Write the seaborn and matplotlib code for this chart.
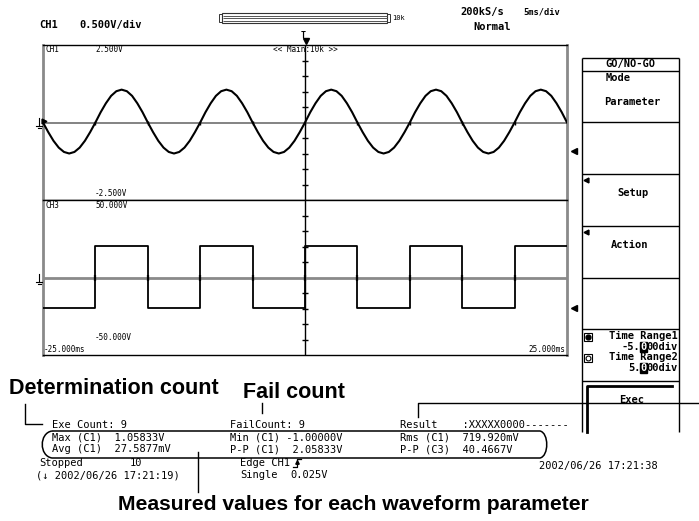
import matplotlib
matplotlib.use('Agg')
import matplotlib.pyplot as plt
import matplotlib.patches as mpatches
from matplotlib.path import Path
import numpy as np
import pandas as pd
import seaborn as sns

# CH1 sine, one sample every 0.5 ms from -25 ms to +25 ms (volts)
ch1_v = [
    0.00, -0.31, -0.59, -0.81, -0.95, -1.00, -0.95, -0.81, -0.59, -0.31,
    0.00, 0.33, 0.62, 0.86, 1.01, 1.06, 1.01, 0.86, 0.62, 0.33,
    0.00, -0.31, -0.59, -0.81, -0.95, -1.00, -0.95, -0.81, -0.59, -0.31,
    0.00, 0.33, 0.62, 0.86, 1.01, 1.06, 1.01, 0.86, 0.62, 0.33,
    0.00, -0.31, -0.59, -0.81, -0.95, -1.00, -0.95, -0.81, -0.59, -0.31,
    0.00, 0.33, 0.62, 0.86, 1.01, 1.06, 1.01, 0.86, 0.62, 0.33,
    0.00, -0.31, -0.59, -0.81, -0.95, -1.00, -0.95, -0.81, -0.59, -0.31,
    0.00, 0.33, 0.62, 0.86, 1.01, 1.06, 1.01, 0.86, 0.62, 0.33,
    0.00, -0.31, -0.59, -0.81, -0.95, -1.00, -0.95, -0.81, -0.59, -0.31,
    0.00, 0.33, 0.62, 0.86, 1.01, 1.06, 1.01, 0.86, 0.62, 0.33,
    0.00,
]
ch1_t = np.linspace(-25, 25, len(ch1_v))

# CH3 square wave: level after each transition (ms, volts)
ch3_t = [-25, -20, -15, -10, -5, 0, 5, 10, 15, 20, 25]
ch3_v = [-19.9, 20.6, -19.9, 20.6, -19.9, 20.6, -19.9, 20.6, -19.9, 20.6, 20.6]

edges_t = [-20, -15, -10, -5, 0, 5, 10, 15, 20]
ch1_div = [-2.0, -1.5, -1.0, -0.5, 0.5, 1.0, 1.5, 2.0]
ch3_div = [-40, -30, -20, -10, 10, 20, 30, 40]

df1 = pd.DataFrame({'t': ch1_t, 'v': ch1_v})
df3 = pd.DataFrame({'t': ch3_t, 'v': ch3_v})

W, H = 699, 521
MONO = 'DejaVu Sans Mono'
SANS = 'Liberation Sans'
GREY = '#8a8a8a'

fig = plt.figure(figsize=(W / 100, H / 100), dpi=100)
fig.patch.set_facecolor('white')


def px_axes(l, t, r, b):
    return fig.add_axes([l / W, 1 - b / H, (r - l) / W, (b - t) / H])


ax1 = px_axes(43, 45, 567, 200)
ax3 = px_axes(43, 200, 567, 355)
for ax, lim in ((ax1, 2.5), (ax3, 50)):
    ax.set_xlim(-25, 25)
    ax.set_ylim(-lim, lim)
    ax.set_xticks([])
    ax.set_yticks([])
    for s in ('left', 'right'):
        ax.spines[s].set_color(GREY)
        ax.spines[s].set_linewidth(2)
    for s in ('top', 'bottom'):
        ax.spines[s].set_color('black')
        ax.spines[s].set_linewidth(1)
    ax.axvline(0, color='black', lw=1, zorder=1)

# CH1
ax1.axhline(0, color='#6e6e6e', lw=1.2, zorder=1)
ax1.plot([0] * len(ch1_div), ch1_div, marker='_', ms=4.5, mew=1, ls='none', color='black')
sns.lineplot(data=df1, x='t', y='v', ax=ax1, color='black', lw=1.5, estimator=None, sort=False, zorder=3)
ax1.plot(edges_t, [0] * len(edges_t), marker='|', ms=3.5, mew=1, ls='none', color='black', zorder=4)
ax1.set(xlabel='', ylabel='')

# CH3
ax3.axhline(0, color=GREY, lw=2, zorder=1)
ax3.plot([0] * len(ch3_div), ch3_div, marker='_', ms=4.5, mew=1, ls='none', color='black')
sns.lineplot(data=df3, x='t', y='v', ax=ax3, color='black', lw=1.3, estimator=None, sort=False,
             drawstyle='steps-post', zorder=3)
ax3.plot(edges_t, [0] * len(edges_t), marker='|', ms=4.5, mew=1.6, ls='none', color='black', zorder=4)
ax3.set(xlabel='', ylabel='')

# overlay in pixel coordinates
ax0 = fig.add_axes([0, 0, 1, 1])
ax0.set_xlim(0, W)
ax0.set_ylim(H, 0)
ax0.axis('off')


def txt(x, y, s, size=7.5, weight='normal', ha='left', family=MONO, color='black'):
    ax0.text(x, y, s, fontsize=size, fontweight=weight, ha=ha, va='center',
             family=family, color=color)


# top status line
txt(39, 25, 'CH1', weight='bold')
txt(79, 25, '0.500V/div', weight='bold')
txt(460, 12, '200kS/s', weight='bold')
txt(523, 12, '5ms/div', size=6.3, weight='bold')
txt(473, 27, 'Normal', weight='bold')
ax0.add_patch(mpatches.Rectangle((222, 13), 165, 10, fill=False, lw=0.8, ec='#333333'))
ax0.hlines([15.5, 18, 20.5], 223, 387, lw=0.7, color='#555555')
ax0.add_patch(mpatches.Rectangle((219, 14), 3, 8, fill=False, lw=0.7, ec='#333333'))
ax0.add_patch(mpatches.Rectangle((387, 14), 3, 8, fill=False, lw=0.7, ec='#333333'))
txt(392, 18, '10k', size=5)
txt(303, 35, 'T', size=6, weight='bold', ha='center')
ax0.plot([306], [41], marker='v', ms=4, color='black')

# screen labels
for x, y, s, ha in [(45, 50, 'CH1', 'left'), (95, 50, '2.500V', 'left'),
                    (305, 50, '<< Main:10k >>', 'center'), (95, 194, '-2.500V', 'left'),
                    (45, 205, 'CH3', 'left'), (95, 205, '50.000V', 'left'),
                    (95, 337, '-50.000V', 'left'), (44, 350, '-25.000ms', 'left'),
                    (565, 350, '25.000ms', 'right')]:
    txt(x, y, s, size=5.5, ha=ha)

# ground / level markers at left
for y0 in (122, 278):
    ax0.plot([39, 39], [y0 - 4, y0 + 4], color='black', lw=0.8)
    ax0.plot([36, 42], [y0 + 4, y0 + 4], color='black', lw=0.8)
    ax0.plot([37.5, 40.5], [y0 + 6, y0 + 6], color='black', lw=0.8)
ax0.plot([44], [121], marker='>', ms=3.5, color='black')

# right-side markers
ax0.plot([574, 574], [151, 308], marker='<', ms=5, ls='none', color='black')

# soft-key menu
ax0.vlines([582, 679], 58, 432, color='black', lw=1)
ax0.hlines([58, 71, 122, 174, 226, 278, 329, 381], 582, 679, color='black', lw=1)
txt(630, 64, 'GO/NO-GO', weight='bold', ha='center')
txt(606, 78, 'Mode', weight='bold')
txt(632, 102, 'Parameter', weight='bold', ha='center')
txt(633, 193, 'Setup', weight='bold', ha='center')
txt(630, 245, 'Action', weight='bold', ha='center')
ax0.plot([586, 586], [180, 232], marker='<', ms=3.5, ls='none', color='black')
txt(678, 336, 'Time Range1', weight='bold', ha='right')
txt(678, 357, 'Time Range2', weight='bold', ha='right')
cw = 0.602 * 7.5 * 100 / 72
for y, head, tail in ((347, '-5.', '00div'), (368, '5.', '00div')):
    x0 = 678 - (len(head) + 1 + len(tail)) * cw
    xc = x0 + len(head) * cw
    txt(x0, y, head, weight='bold')
    ax0.add_patch(mpatches.Rectangle((xc, y - 5), cw, 10, color='black'))
    txt(xc, y, '0', weight='bold', color='white')
    txt(xc + cw, y, tail, weight='bold')
ax0.plot([588, 588], [337, 358], marker='s', ms=6, mfc='white', mec='black', mew=0.8, ls='none')
ax0.plot([588], [337], marker='o', ms=3.5, color='black')
ax0.plot([588], [358], marker='o', ms=3.5, mfc='white', mec='black', mew=0.8)
txt(632, 400, 'Exec', weight='bold', ha='center')
ax0.plot([587, 587, 672], [432, 386, 386], color='black', lw=2)

# measurement panel
rows = [
    (52, 425, 'Exe Count: 9'), (230, 425, 'FailCount: 9'),
    (400, 425, 'Result    :XXXXX0000-------'),
    (52, 437, 'Max (C1)  1.05833V'), (230, 437, 'Min (C1) -1.00000V'),
    (400, 437, 'Rms (C1)  719.920mV'),
    (52, 449, 'Avg (C1)  27.5877mV'), (230, 449, 'P-P (C1)  2.05833V'),
    (400, 449, 'P-P (C3)  40.4667V'),
    (39, 463, 'Stopped'), (130, 463, '10'), (240, 463, 'Edge CH1'),
    (36, 475, '(\u2193 2002/06/26 17:21:19)'), (240, 475, 'Single'), (290, 475, '0.025V'),
    (539, 466, '2002/06/26 17:21:38'),
]
for x, y, s in rows:
    txt(x, y, s)
ax0.plot([293, 297, 297, 301], [467, 467, 459, 459], color='black', lw=0.9)
ax0.plot([297], [462], marker='^', ms=2.5, color='black')

verts = [(52, 431), (540, 431), (549, 433), (549, 456), (540, 458), (52, 458),
         (39, 456), (39, 433), (52, 431)]
codes = [Path.MOVETO, Path.LINETO, Path.CURVE4, Path.CURVE4, Path.CURVE4, Path.LINETO,
         Path.CURVE4, Path.CURVE4, Path.CURVE4]
ax0.add_patch(mpatches.PathPatch(Path(verts, codes), fill=False, lw=1.1, ec='black'))

# callouts
txt(9, 389, 'Determination count', size=15.5, weight='bold', family=SANS)
txt(243, 392, 'Fail count', size=15.5, weight='bold', family=SANS)
txt(118, 505, 'Measured values for each waveform parameter', size=15.2, weight='bold', family=SANS)
ax0.plot([25, 25, 42], [404, 424, 424], color='black', lw=1)
ax0.plot([262, 262], [403, 413], color='black', lw=1)
ax0.plot([418, 418, 699], [417, 403, 403], color='black', lw=1)
ax0.plot([198, 198], [452, 492], color='black', lw=1)

fig.savefig('out.png', dpi=100, facecolor='white')
